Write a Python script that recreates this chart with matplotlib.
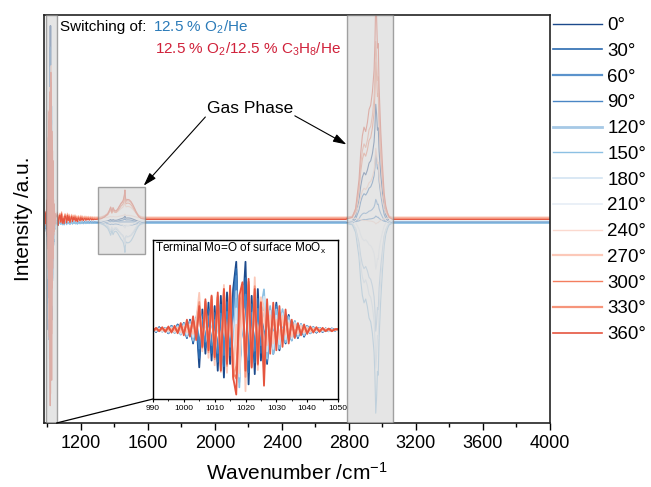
import numpy as np
import matplotlib
matplotlib.use("Agg")
import matplotlib.pyplot as plt
from matplotlib.patches import Rectangle, ConnectionPatch

plt.rcParams["font.family"] = ["Liberation Sans", "DejaVu Sans"]
plt.rcParams["mathtext.fontset"] = "custom"
plt.rcParams["mathtext.rm"] = "Liberation Sans"
plt.rcParams["mathtext.it"] = "Liberation Sans:italic"

# phase angles and colours (dark blue -> red)
phases = ["0°", "30°", "60°", "90°", "120°", "150°", "180°",
          "210°", "240°", "270°", "300°", "330°", "360°"]
colors = ["#1c4a8c", "#2b6bb0", "#5b93cc", "#4a86c5", "#a6c9e6", "#8cc0e3",
          "#d3e4f2", "#e6eef6", "#fbd9cf", "#fcc9b9", "#f47e5f", "#f6957b", "#e5553f"]
legend_lw = [1.0, 1.2, 1.6, 1.0, 2.0, 1.0, 1.2, 1.2, 1.0, 1.6, 1.0, 1.6, 1.2]

# Mo=O region, 990..1050 cm-1 (1 cm-1 steps)
mo_wn = list(range(990, 1051))
mo_blue = [0.02, -0.03, 0.04, -0.02, 0.03, -0.05, 0.06, -0.04, 0.08, -0.06,
           0.10, -0.12, 0.15, -0.20, 0.18, -0.55, 0.30, -0.35, 0.40, -0.45,
           0.35, -0.60, 0.50, -0.70, 0.55, -0.50, 0.60, 1.00, -0.60, 0.20,
           1.00, -0.80, 0.50, -0.65, 0.60, -0.45, 0.35, -0.50, 0.30, -0.35,
           0.40, -0.30, 0.25, -0.20, 0.22, -0.15, 0.12, -0.12, 0.08, -0.10,
           0.06, -0.05, 0.04, -0.04, 0.03, -0.03, 0.02, -0.02, 0.02, -0.01, 0.01]
mo_red = [-0.02, 0.03, -0.02, 0.04, -0.03, 0.05, -0.04, 0.06, -0.05, 0.10,
          -0.08, 0.15, -0.10, 0.20, -0.15, 0.35, -0.25, 0.45, -0.30, 0.50,
          -0.40, 0.55, -0.60, 0.60, -0.50, 0.65, -0.70, -0.95, 0.50, 0.70,
          -0.60, 0.75, -0.55, 0.60, -0.50, 0.40, -0.82, 0.45, -0.35, 0.40,
          -0.30, 0.35, -0.25, 0.30, -0.20, 0.15, -0.12, 0.10, -0.08, 0.08,
          -0.06, 0.05, -0.04, 0.04, -0.03, 0.03, -0.02, 0.02, -0.02, 0.01, 0.01]
mo_light = [0.01, -0.02, 0.02, -0.03, 0.03, -0.04, 0.05, -0.05, 0.06, -0.08,
            0.10, -0.10, 0.12, -0.15, 0.20, 0.55, -0.30, 0.35, -0.40, 0.45,
            -0.50, 0.40, -0.55, 0.60, -0.60, 0.50, -0.65, 0.45, -0.98, 0.55,
            -0.90, 0.60, -0.50, 0.74, -0.55, 0.45, 0.70, -0.45, 0.40, -0.40,
            0.30, -0.30, 0.35, -0.20, 0.20, -0.18, 0.15, -0.10, 0.10, -0.08,
            0.06, -0.05, 0.04, -0.03, 0.03, -0.02, 0.02, -0.02, 0.01, -0.01, 0.01]
w_blue = [1.0, 0.85, 0.6, 0.7, 0.3, 0.1, 0.0, 0.0, 0.0, 0.0, 0.0, 0.0, 0.0]
w_red = [0.0, 0.0, 0.0, 0.0, 0.0, 0.0, 0.0, 0.1, 0.3, 0.3, 0.8, 0.7, 1.0]
w_light = [0.0, 0.1, 0.2, 0.2, 0.6, 0.8, 0.7, 0.5, 0.5, 0.8, 0.1, 0.3, 0.0]

# noisy tail after the Mo=O band
fuzz_wn = list(range(1060, 1290, 5))
fuzz = [0.025, -0.03, 0.01, 0.02, -0.015, 0.028, -0.02, 0.005, -0.022, 0.018,
        0.012, -0.018, 0.02, -0.006, 0.015, -0.016, 0.004, 0.014, -0.012, 0.01,
        -0.004, 0.012, -0.01, 0.006, -0.012, 0.008, 0.002, -0.008, 0.009, -0.004,
        0.006, -0.007, 0.003, 0.005, -0.005, 0.004, -0.002, 0.004, -0.004, 0.002,
        0.003, -0.003, 0.002, -0.002, 0.001, 0.0]
fuzz_amp = [0.3, 0.3, 0.3, 0.3, 0.4, 0.4, 0.4, 0.5, 0.8, 1.0, 1.0, 1.0, 1.0]

# 1300-1580 cm-1 band (normalised)
mid_wn = [1290, 1320, 1340, 1360, 1370, 1378, 1385, 1392, 1400, 1410, 1420, 1430,
          1440, 1450, 1455, 1460, 1463, 1466, 1470, 1480, 1490, 1500, 1510, 1520,
          1530, 1545, 1560, 1590]
mid_val = [0, 0.02, 0.08, 0.18, 0.30, 0.42, 0.25, 0.40, 0.30, 0.28, 0.35, 0.45,
           0.55, 0.62, 0.70, 0.85, 1.0, 0.75, 0.65, 0.68, 0.66, 0.60, 0.50, 0.38,
           0.25, 0.10, 0.03, 0]
mid_amp = [0.03, 0.02, -0.02, 0.0, -0.10, -0.15, -0.12, -0.04, 0.02, 0.08, 0.12, 0.13, 0.15]

# gas phase propane band (normalised)
gas_wn = [2780, 2820, 2840, 2860, 2870, 2880, 2890, 2900, 2910, 2920, 2930, 2940,
          2950, 2955, 2960, 2965, 2970, 2975, 2980, 2990, 3000, 3010, 3020, 3030,
          3040, 3060, 3080]
gas_val = [0, 0.01, 0.05, 0.18, 0.30, 0.38, 0.42, 0.40, 0.44, 0.50, 0.52, 0.58,
           0.68, 0.80, 1.0, 0.92, 0.78, 0.80, 0.60, 0.40, 0.25, 0.12, 0.06, 0.03,
           0.01, 0, 0]
gas_amp = [0.6, 0.35, 0.12, 0.03, -0.55, -0.97, -0.75, -0.25, -0.03, 0.35, 0.8, 0.9, 1.12]

# baseline offset of each spectrum
offset = [-0.005, -0.008, -0.01, -0.005, -0.012, -0.01, 0.0, 0.004, 0.015, 0.02,
          0.01, 0.015, 0.008]

fig = plt.figure(figsize=(6.51, 4.87), dpi=100)
ax = fig.add_axes([44 / 651, 1 - 423 / 487, 506 / 651, 408 / 487])
axin = fig.add_axes([153 / 651, 1 - 399 / 487, 185 / 651, 159 / 487])

mo_blue, mo_red, mo_light = np.array(mo_blue), np.array(mo_red), np.array(mo_light)
handles = []
for k, name in enumerate(phases):
    mo = w_blue[k] * mo_blue + w_red[k] * mo_red + w_light[k] * mo_light
    x = np.concatenate([mo_wn, fuzz_wn, mid_wn, gas_wn, [4000]])
    y = np.concatenate([mo, fuzz_amp[k] * np.array(fuzz),
                        mid_amp[k] * np.array(mid_val),
                        gas_amp[k] * np.array(gas_val), [0]]) + offset[k]
    ax.plot(x, y, color=colors[k], lw=0.8)
    axin.plot(mo_wn, mo, color=colors[k], lw=1.3)
    h, = ax.plot([], [], color=colors[k], lw=legend_lw[k], label=name)
    handles.append(h)

ylo, yhi = -1.03, 1.05
ax.set_xlim(980, 4000)
ax.set_ylim(ylo, yhi)

box_kw = dict(facecolor="#d9d9d9", edgecolor="#7a7a7a", lw=1.0, alpha=0.68, zorder=3)
ax.add_patch(Rectangle((990, ylo), 65, yhi - ylo, **box_kw))
ax.add_patch(Rectangle((1300, -0.168), 280, 0.343, **box_kw))
ax.add_patch(Rectangle((2790, ylo), 275, yhi - ylo, **box_kw))

ax.set_xticks(range(1200, 4001, 400))
ax.set_xticks(range(1000, 4000, 400), minor=True)
ax.set_yticks([])
ax.tick_params(axis="x", which="major", length=5, width=1, labelsize=13, pad=4)
ax.tick_params(axis="x", which="minor", length=3, width=1)
for s in ax.spines.values():
    s.set_linewidth(1.2)
    s.set_color("#222222")
ax.set_xlabel("Wavenumber /cm$^{-1}$", fontsize=15, labelpad=7)
ax.set_ylabel("Intensity /a.u.", fontsize=15, labelpad=8)

ax.annotate("", xy=(1575, 0.18), xytext=(1943, 0.53),
            arrowprops=dict(arrowstyle="-|>,head_length=0.8,head_width=0.25",
                            color="k", lw=0.8, shrinkA=0, shrinkB=0))
ax.annotate("", xy=(2785, 0.39), xytext=(2477, 0.536),
            arrowprops=dict(arrowstyle="-|>,head_length=0.8,head_width=0.25",
                            color="k", lw=0.8, shrinkA=0, shrinkB=0))
ax.text(2210, 0.571, "Gas Phase", ha="center", va="center", fontsize=12.5)

fig.text(60 / 651, 1 - 27 / 487, "Switching of:", ha="left", va="center", fontsize=11)
fig.text(153 / 651, 1 - 27 / 487, "12.5 % O$_2$/He", ha="left", va="center",
         fontsize=11, color="#2a7ab8")
fig.text(155 / 651, 1 - 49 / 487, "12.5 % O$_2$/12.5 % C$_3$H$_8$/He", ha="left",
         va="center", fontsize=11, color="#d0213a")

axin.set_xlim(990, 1050)
axin.set_ylim(-1.015, 1.32)
axin.set_xticks(range(990, 1051, 10))
axin.set_xticks(range(995, 1050, 10), minor=True)
axin.set_yticks([])
axin.tick_params(axis="x", which="major", length=2.5, width=0.8, labelsize=6, pad=2)
axin.tick_params(axis="x", which="minor", length=1.5, width=0.6)
for s in axin.spines.values():
    s.set_linewidth(1.0)
axin.text(0.01, 0.95, r"Terminal Mo=O of surface MoO$_\mathrm{x}$",
          transform=axin.transAxes, ha="left", va="center", fontsize=8.5)

con = ConnectionPatch(xyA=(1055, ylo), coordsA=ax.transData,
                      xyB=(990, -1.015), coordsB=axin.transData,
                      color="k", lw=0.9)
fig.add_artist(con)

fig.legend(handles=handles, loc="upper left", bbox_to_anchor=(553 / 651, 1 - 17 / 487),
           frameon=False, fontsize=13.5, handlelength=2.6, handletextpad=0.3,
           labelspacing=0.46, borderpad=0, borderaxespad=0)

fig.savefig("out.png", dpi=100)
